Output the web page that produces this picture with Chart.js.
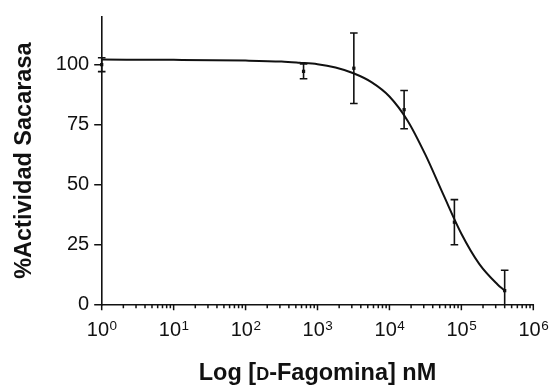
<!DOCTYPE html>
<html>
<head>
<meta charset="utf-8">
<script src="https://cdn.jsdelivr.net/npm/chart.js@4/dist/chart.umd.min.js"></script>
<style>
  html, body { margin: 0; padding: 0; background: #fff; }
  #wrap { width: 551px; height: 385px; position: relative; }
</style>
</head>
<body>
<div id="wrap"><canvas id="c" width="551" height="385"></canvas></div>
<script>
// Measured points: dose (nM), % sucrase activity, error (±)
const dose = [1, 640, 3200, 16000, 80000, 400000];
const actividad = [100.1, 97.3, 98.6, 81.3, 34.3, 5.7];
const errorBars = [2.9, 3.1, 14.7, 8.0, 9.4, 8.5];

// Fitted dose-response curve, sampled along its length
const curveDose = [1, 10, 100, 316, 562, 1000, 1780, 3160, 5620, 10000, 17800, 31600, 56200, 100000, 178000, 316000, 400000];
const curvePct = [102.2, 102.1, 101.8, 101.4, 100.9, 100.3, 98.9, 96.5, 92.8, 86.8, 76.8, 62.5, 45.8, 29.5, 16.8, 8.4, 5.7];

// Axis ticks
const yTicks = [0, 25, 50, 75, 100];
const xMajorTicks = [1, 10, 100, 1000, 10000, 100000, 1000000];
const xMajorExp = ['0', '1', '2', '3', '4', '5', '6'];
const xMinorTicks = [];
for (let e = 0; e < 6; e++) {
  for (let k = 2; k <= 9; k++) xMinorTicks.push(k * Math.pow(10, e));
}

const FONT = '"Liberation Sans", Arial, Helvetica, sans-serif';
const INK = '#111';

// Error bars with caps, clipped at the x axis
const errorBarPlugin = {
  id: 'errorBars',
  afterDatasetsDraw(chart) {
    const {ctx, chartArea} = chart;
    const xs = chart.scales.x, ys = chart.scales.y;
    ctx.save();
    ctx.beginPath();
    ctx.rect(0, 0, chart.width, chartArea.bottom);
    ctx.clip();
    ctx.strokeStyle = INK;
    ctx.lineWidth = 1.6;
    const cap = 3.8;
    dose.forEach((d, i) => {
      const px = xs.getPixelForValue(d);
      const top = ys.getPixelForValue(actividad[i] + errorBars[i]);
      const bot = ys.getPixelForValue(actividad[i] - errorBars[i]);
      ctx.beginPath();
      ctx.moveTo(px, top); ctx.lineTo(px, bot);
      ctx.moveTo(px - cap, top); ctx.lineTo(px + cap, top);
      ctx.moveTo(px - cap, bot); ctx.lineTo(px + cap, bot);
      ctx.stroke();
    });
    ctx.restore();
  }
};

// Log-axis tick marks, power-of-ten labels and axis titles
const axisDecorPlugin = {
  id: 'axisDecor',
  afterDraw(chart) {
    const {ctx, chartArea} = chart;
    const xs = chart.scales.x;
    const y0 = chartArea.bottom;
    ctx.save();
    ctx.strokeStyle = INK;
    ctx.lineWidth = 1.5;
    ctx.beginPath();
    xMinorTicks.forEach(v => {
      const px = xs.getPixelForValue(v);
      ctx.moveTo(px, y0); ctx.lineTo(px, y0 + 4);
    });
    xMajorTicks.forEach(v => {
      const px = xs.getPixelForValue(v);
      ctx.moveTo(px, y0); ctx.lineTo(px, y0 + 6);
    });
    ctx.stroke();

    // 10^n labels
    ctx.fillStyle = INK;
    ctx.textBaseline = 'alphabetic';
    ctx.textAlign = 'left';
    const baseFont = '20px ' + FONT;
    const supFont = '13.5px ' + FONT;
    xMajorTicks.forEach((v, i) => {
      const px = xs.getPixelForValue(v);
      ctx.font = baseFont;
      const w1 = ctx.measureText('10').width;
      ctx.font = supFont;
      const w2 = ctx.measureText(xMajorExp[i]).width;
      const start = px - (w1 + w2) / 2;
      ctx.font = baseFont;
      ctx.fillText('10', start, y0 + 31.7);
      ctx.font = supFont;
      ctx.fillText(xMajorExp[i], start + w1 + 0.5, y0 + 26);
    });

    // x axis title with small-capital D
    const cx = (chartArea.left + chartArea.right) / 2;
    const parts = [
      {t: 'Log [', f: 'bold 23.5px ' + FONT},
      {t: 'D', f: 'bold 18px ' + FONT},
      {t: '-Fagomina] nM', f: 'bold 23.5px ' + FONT}
    ];
    let total = 0;
    parts.forEach(p => { ctx.font = p.f; p.w = ctx.measureText(p.t).width; total += p.w; });
    let x = cx - total / 2;
    parts.forEach(p => { ctx.font = p.f; ctx.fillText(p.t, x, 380); x += p.w; });

    // y axis title
    ctx.save();
    ctx.translate(31, (chartArea.top + chartArea.bottom) / 2);
    ctx.rotate(-Math.PI / 2);
    ctx.textAlign = 'center';
    ctx.font = 'bold 23.5px ' + FONT;
    ctx.fillText('%Actividad Sacarasa', 0, 0);
    ctx.restore();
    ctx.restore();
  }
};

new Chart(document.getElementById('c'), {
  data: {
    datasets: [
      {
        type: 'line',
        data: curveDose.map((d, i) => ({x: d, y: curvePct[i]})),
        borderColor: INK,
        borderWidth: 2,
        pointRadius: 0,
        cubicInterpolationMode: 'monotone',
        fill: false,
        clip: false
      },
      {
        type: 'scatter',
        data: dose.map((d, i) => ({x: d, y: actividad[i]})),
        backgroundColor: INK,
        borderColor: INK,
        pointStyle: 'rect',
        pointRadius: 2.3,
        borderWidth: 0,
        clip: false
      }
    ]
  },
  options: {
    responsive: false,
    animation: false,
    devicePixelRatio: 1,
    layout: { padding: { left: 0, right: 17.7, top: 16.3, bottom: 0 } },
    plugins: { legend: { display: false }, tooltip: { enabled: false }, title: { display: false } },
    scales: {
      x: {
        type: 'logarithmic',
        min: 1,
        max: 1000000,
        grid: { display: false },
        border: { display: true, color: INK, width: 1.6 },
        ticks: { display: false },
        afterFit(scale) { scale.height = 385 - 304.3; }
      },
      y: {
        type: 'linear',
        min: 0,
        max: 120,
        afterBuildTicks(scale) { scale.ticks = yTicks.map(v => ({value: v})); },
        grid: { drawOnChartArea: false, drawTicks: true, tickLength: 7.5, color: INK, lineWidth: 1.5 },
        border: { display: true, color: INK, width: 1.6 },
        ticks: { color: INK, padding: 5, font: { family: FONT, size: 20 } },
        afterFit(scale) { scale.width = 101.7; }
      }
    }
  },
  plugins: [errorBarPlugin, axisDecorPlugin]
});
</script>
</body>
</html>
